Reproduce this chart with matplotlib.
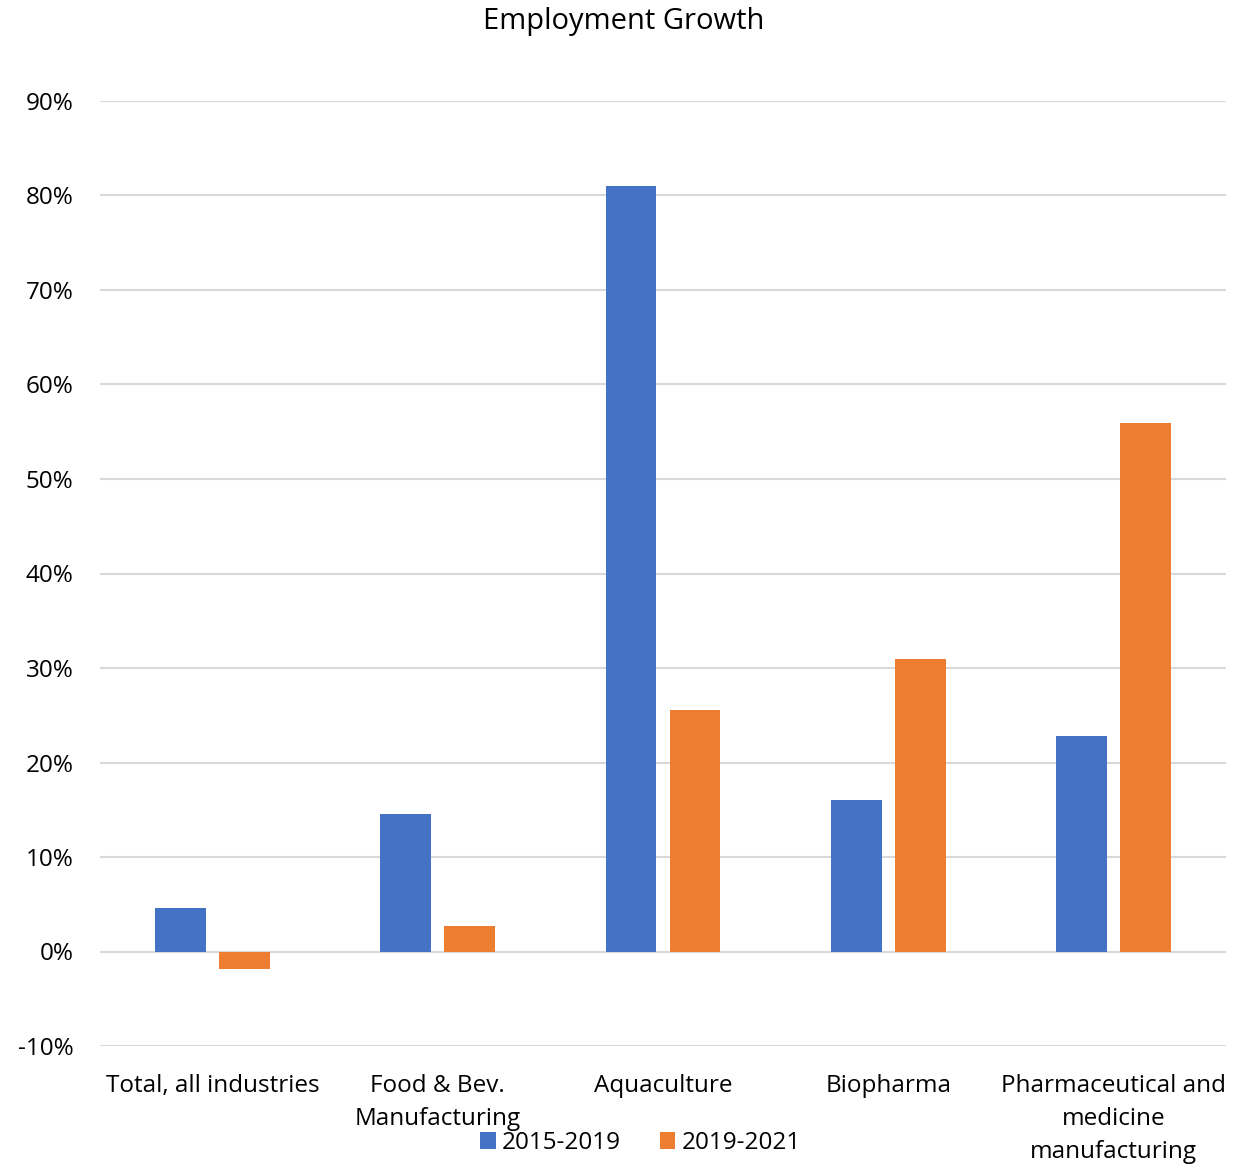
import numpy as np
import matplotlib
matplotlib.use('Agg')
import matplotlib.pyplot as plt
from matplotlib.ticker import PercentFormatter

plt.rcParams['font.family'] = ['Open Sans', 'DejaVu Sans']
plt.rcParams['axes.unicode_minus'] = False

# data
categories = ['Total, all industries', 'Food & Bev.\nManufacturing', 'Aquaculture',
              'Biopharma', 'Pharmaceutical and\nmedicine\nmanufacturing']
growth_2015_2019 = [4.6, 14.5, 81.0, 16.0, 22.8]
growth_2019_2021 = [-1.9, 2.7, 25.6, 31.0, 55.9]
series_names = ['2015-2019', '2019-2021']

blue = '#4472C4'
orange = '#ED7D31'

fig = plt.figure(figsize=(12.48, 11.64), dpi=100)
ax = fig.add_axes([100/1248, 1 - 1046/1164, 1126/1248, 945/1164])

x = np.arange(len(categories))
w = 0.226
off = 0.142
ax.bar(x - off, growth_2015_2019, w, color=blue, label=series_names[0], zorder=3)
ax.bar(x + off, growth_2019_2021, w, color=orange, label=series_names[1], zorder=3)

ax.set_xlim(-0.5, len(categories) - 0.5)
ax.set_ylim(-10, 90)
ax.set_yticks(np.arange(-10, 91, 10))
ax.yaxis.set_major_formatter(PercentFormatter(decimals=0))
ax.grid(axis='y', color='#d9d9d9', linewidth=1.5, zorder=0)
for s in ax.spines.values():
    s.set_visible(False)

ax.set_xticks(x)
ax.set_xticklabels(categories, fontsize=17.5, linespacing=1.52)
ax.tick_params(axis='x', length=0, pad=20)
ax.tick_params(axis='y', length=0, labelsize=17.5, pad=19)

fig.text(0.5, 1 - 21/1164, 'Employment Growth', fontsize=21, ha='center', va='center')

fig.legend(loc='center', bbox_to_anchor=(0.513, 1 - 1143/1164), ncol=2, frameon=False,
           fontsize=17.5, handlelength=0.65, handleheight=0.65, handletextpad=0.25,
           columnspacing=1.6, borderpad=0)

fig.savefig('out.png', dpi=100)
